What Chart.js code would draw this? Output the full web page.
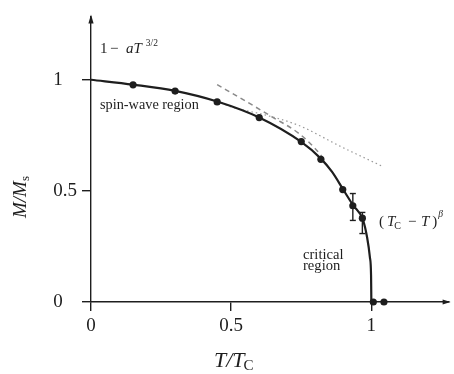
<!DOCTYPE html>
<html>
<head>
<meta charset="utf-8">
<script src="https://cdn.jsdelivr.net/npm/chart.js@4.4.1/dist/chart.umd.min.js"></script>
<style>
  html, body { margin: 0; padding: 0; background: #fff; }
  canvas { display: block; }
</style>
</head>
<body>
<canvas id="magChart" width="454" height="374"></canvas>
<script>
  // values: T/Tc and M/Ms
  const curveT = [0, 0.15, 0.30, 0.45, 0.60, 0.75, 0.82, 0.86, 0.90, 0.935, 0.97, 0.985, 0.995, 0.999, 1.0];
  const curveM = [1.0, 0.978, 0.950, 0.902, 0.830, 0.720, 0.645, 0.585, 0.505, 0.435, 0.370, 0.290, 0.200, 0.120, 0];

  const measT = [0.15, 0.30, 0.45, 0.60, 0.75, 0.82, 0.898, 0.934, 0.968, 1.007, 1.045];
  const measM = [0.977, 0.949, 0.900, 0.830, 0.722, 0.642, 0.506, 0.433, 0.377, 0, 0];

  const errT = [0.934, 0.968];
  const errLow = [0.367, 0.308];
  const errHigh = [0.488, 0.403];

  // (Tc - T)^beta fit, dashed
  const critT = [0.45, 0.55, 0.65, 0.74, 0.80, 0.83];
  const critM = [0.978, 0.905, 0.830, 0.760, 0.690, 0.645];

  // 1 - aT^3/2 fit, dotted
  const spinT = [0.45, 0.50, 0.62, 0.74, 0.89, 1.04];
  const spinM = [0.904, 0.878, 0.842, 0.795, 0.700, 0.610];

  const xTicks = [0, 0.5, 1];
  const yTicks = [0, 0.5, 1];
  const xTickLabels = ['0', '0.5', '1'];
  const yTickLabels = ['0', '0.5', '1'];

  const ink = '#1e1e1e';
  const serif = '"Liberation Serif", "DejaVu Serif", serif';

  const toXY = (xs, ys) => xs.map((x, i) => ({ x: x, y: ys[i] }));

  // error bars as short two-point lines with flat caps
  const errorSets = errT.map((t, i) => ({
    data: [{ x: t, y: errLow[i] }, { x: t, y: errHigh[i] }],
    showLine: true,
    borderColor: ink,
    borderWidth: 1.4,
    pointStyle: 'line',
    pointRadius: 3,
    pointBorderColor: ink,
    pointBorderWidth: 1.4,
    clip: false
  }));

  // axis arrows and the labels with sub/superscripts
  const decorations = {
    id: 'decorations',
    afterDraw(chart) {
      const ctx = chart.ctx;
      const a = chart.chartArea;
      ctx.save();
      ctx.fillStyle = ink;
      ctx.beginPath();
      ctx.moveTo(a.left, a.top - 2);
      ctx.lineTo(a.left - 2.6, a.top + 7);
      ctx.lineTo(a.left + 2.6, a.top + 7);
      ctx.closePath();
      ctx.fill();
      ctx.beginPath();
      ctx.moveTo(a.right + 2, a.bottom);
      ctx.lineTo(a.right - 6, a.bottom - 2.6);
      ctx.lineTo(a.right - 6, a.bottom + 2.6);
      ctx.closePath();
      ctx.fill();

      const put = (text, font, x, y) => {
        ctx.font = font;
        ctx.fillText(text, x, y);
        return x + ctx.measureText(text).width;
      };
      ctx.textAlign = 'left';
      ctx.textBaseline = 'alphabetic';

      // 1 - aT^{3/2}
      put('1', '15px ' + serif, 100, 53);
      put('\u2212', '15px ' + serif, 110, 53);
      let x = put('a', 'italic 15px ' + serif, 126, 53);
      x = put('T', 'italic 15px ' + serif, x, 53);
      put('3/2', '9.5px ' + serif, x + 4, 46);

      put('spin-wave region', '14.3px ' + serif, 100, 109);
      put('critical', '14.6px ' + serif, 303, 259);
      put('region', '14.6px ' + serif, 303, 270);

      // (T_C - T)^beta
      put('(', '15px ' + serif, 379, 226);
      x = put('T', 'italic 15px ' + serif, 387, 226);
      put('C', '10px ' + serif, x - 1, 229);
      put('\u2212', '15px ' + serif, 408, 226);
      x = put('T', 'italic 15px ' + serif, 421, 226);
      x = put(')', '15px ' + serif, x + 3, 226);
      put('\u03b2', 'italic 9.5px ' + serif, x + 1, 217);

      // x title T/T_C
      x = put('T/T', 'italic 22px ' + serif, 214, 367);
      put('C', '15px ' + serif, x - 1, 370);

      // y title M/M_s
      ctx.translate(26, 218);
      ctx.rotate(-Math.PI / 2);
      x = put('M/M', 'italic 19px ' + serif, 0, 0);
      put('s', '13px ' + serif, x, 3);
      ctx.restore();
    }
  };

  const ctx = document.getElementById('magChart');
  new Chart(ctx, {
    type: 'scatter',
    data: {
      datasets: [
        {
          data: toXY(measT, measM),
          pointRadius: 3.6,
          pointBackgroundColor: ink,
          pointBorderWidth: 0,
          clip: false
        },
        ...errorSets,
        {
          data: toXY(curveT, curveM),
          showLine: true,
          cubicInterpolationMode: 'monotone',
          borderColor: ink,
          borderWidth: 2.2,
          pointRadius: 0,
          clip: false
        },
        {
          data: toXY(critT, critM),
          showLine: true,
          cubicInterpolationMode: 'monotone',
          borderColor: '#8a8a8a',
          borderWidth: 1.5,
          borderDash: [5, 4],
          pointRadius: 0
        },
        {
          data: toXY(spinT, spinM),
          showLine: true,
          cubicInterpolationMode: 'monotone',
          borderColor: '#9a9a9a',
          borderWidth: 1.2,
          borderDash: [1.5, 3],
          pointRadius: 0
        }
      ]
    },
    options: {
      responsive: false,
      animation: false,
      devicePixelRatio: 1,
      layout: { padding: { top: 9, right: 2, left: 0, bottom: 0 } },
      plugins: { legend: { display: false }, tooltip: { enabled: false } },
      scales: {
        x: {
          type: 'linear',
          min: 0,
          max: 1.2756,
          afterBuildTicks: s => { s.ticks = xTicks.map(v => ({ value: v })); },
          afterFit: s => { s.height = 72; },
          grid: { drawOnChartArea: false, drawTicks: true, tickLength: 9, color: ink, lineWidth: 1.4 },
          border: { display: true, color: ink, width: 1.4 },
          ticks: {
            padding: 4,
            color: ink,
            font: { family: serif, size: 19 },
            callback: (v, i) => xTickLabels[i]
          }
        },
        y: {
          type: 'linear',
          min: 0,
          max: 1.285,
          afterBuildTicks: s => { s.ticks = yTicks.map(v => ({ value: v })); },
          afterFit: s => { s.width = 91; },
          grid: { drawOnChartArea: false, drawTicks: true, tickLength: 9, color: ink, lineWidth: 1.4 },
          border: { display: true, color: ink, width: 1.4 },
          ticks: {
            padding: 5,
            color: ink,
            font: { family: serif, size: 19 },
            // pad short labels so they line up on the left like the original
            callback: (v, i) => yTickLabels[i].length < 3 ? yTickLabels[i] + '\u2008\u2007' : yTickLabels[i]
          }
        }
      }
    },
    plugins: [decorations]
  });
</script>
</body>
</html>
